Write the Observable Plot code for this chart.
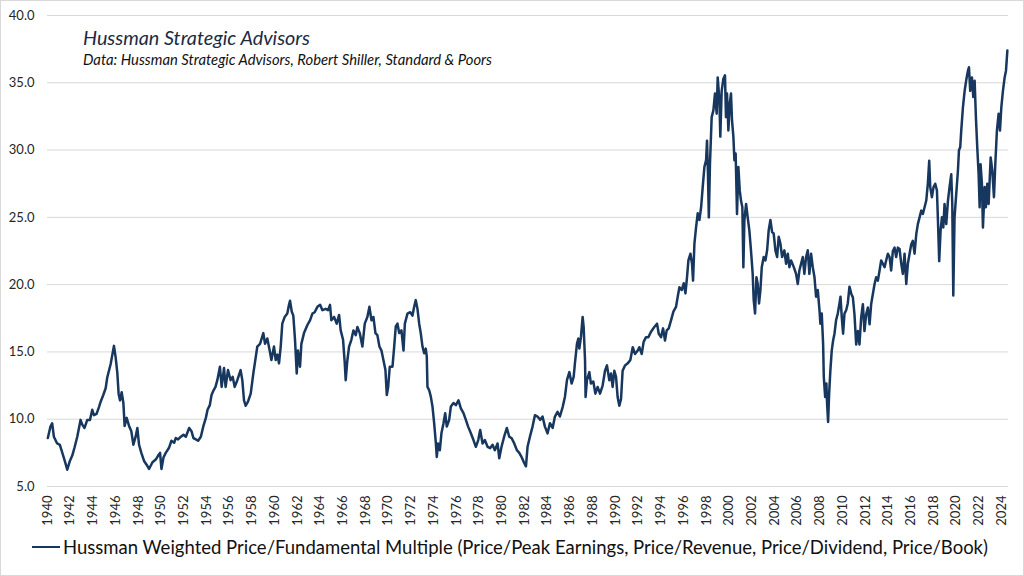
<!DOCTYPE html>
<html>
<head>
<meta charset="utf-8">
<script src="https://cdn.jsdelivr.net/npm/d3@7"></script>
<script src="https://cdn.jsdelivr.net/npm/@observablehq/plot@0.6"></script>
<style>
  html, body { margin: 0; padding: 0; background: #fff; }
  #frame { position: relative; width: 1024px; height: 576px; overflow: hidden; font-family: Lato, "Open Sans", sans-serif; background: #fff; }
  #chart { position: absolute; left: 0; top: 0; }
  #border { position: absolute; left: 0; top: 0; width: 1024px; height: 576px; box-sizing: border-box; border: 1px solid #d9d9d9; pointer-events: none; }
  .title { position: absolute; left: 83px; top: 25.5px; font-style: italic; font-size: 19.8px; line-height: 1.2; color: #1c2b43; white-space: nowrap; }
  .subtitle { position: absolute; left: 83px; top: 50.5px; font-style: italic; font-size: 14.8px; line-height: 1.2; color: #111; white-space: nowrap; }
  .legend { position: absolute; left: 32px; top: 536px; height: 22px; display: flex; align-items: center; white-space: nowrap; }
  .legend .swatch { width: 28px; height: 2.5px; background: #17375e; margin-right: 3px; }
  .legend .label { font-size: 18.5px; line-height: 1.2; color: #111; }
</style>
</head>
<body>
<div id="frame">
  <div id="chart"></div>
  <div class="title">Hussman Strategic Advisors</div>
  <div class="subtitle">Data: Hussman Strategic Advisors, Robert Shiller, Standard &amp; Poors</div>
  <div class="legend"><div class="swatch"></div><div class="label">Hussman Weighted Price/Fundamental Multiple (Price/Peak Earnings, Price/Revenue, Price/Dividend, Price/Book)</div></div>
  <div id="border"></div>
</div>
<script>
// Fractional year of each reading
const years = [
1940.03,1940.26,1940.41,1940.56,1940.85,1941.09,1941.21,1941.38,1941.59,1941.74,1941.97,1942.18,1942.38,1942.62,1942.91,
1943.06,1943.26,1943.5,1943.74,1943.94,1944.09,1944.32,1944.53,1944.68,1944.91,1945.12,1945.26,1945.41,1945.56,1945.71,
1945.85,1946.0,1946.15,1946.26,1946.38,1946.53,1946.68,1946.79,1946.97,1947.18,1947.38,1947.56,1947.76,1947.91,1948.06,
1948.26,1948.5,1948.74,1948.94,1949.24,1949.53,1949.74,1949.91,1950.03,1950.21,1950.41,1950.71,1950.91,1951.15,1951.29,
1951.5,1951.74,1951.97,1952.18,1952.47,1952.68,1952.85,1953.06,1953.26,1953.5,1953.71,1953.94,1954.09,1954.29,1954.44,
1954.62,1954.79,1954.95,1955.18,1955.33,1955.54,1955.68,1955.89,1956.12,1956.3,1956.48,1956.71,1957.0,1957.15,1957.3,
1957.45,1957.65,1957.89,1958.12,1958.33,1958.47,1958.71,1959.0,1959.15,1959.35,1959.56,1959.71,1959.94,1960.09,1960.24,
1960.38,1960.53,1960.67,1960.88,1961.11,1961.26,1961.35,1961.5,1961.64,1961.79,1961.94,1962.05,1962.23,1962.35,1962.58,
1962.88,1963.11,1963.32,1963.52,1963.76,1964.0,1964.2,1964.49,1964.7,1964.87,1964.99,1965.23,1965.46,1965.67,1965.81,
1966.02,1966.17,1966.25,1966.4,1966.55,1966.75,1966.93,1967.14,1967.28,1967.49,1967.72,1967.93,1968.16,1968.34,1968.52,
1968.69,1968.87,1969.04,1969.22,1969.4,1969.57,1969.75,1969.87,1969.99,1970.13,1970.37,1970.52,1970.66,1970.81,1970.96,
1971.16,1971.34,1971.46,1971.69,1971.93,1972.13,1972.28,1972.42,1972.57,1972.72,1972.86,1973.01,1973.16,1973.3,1973.39,
1973.45,1973.6,1973.74,1973.89,1974.04,1974.19,1974.27,1974.39,1974.54,1974.68,1974.86,1975.01,1975.15,1975.36,1975.51,
1975.74,1975.95,1976.18,1976.39,1976.62,1976.83,1977.03,1977.27,1977.5,1977.71,1977.92,1978.09,1978.3,1978.5,1978.74,
1978.97,1979.18,1979.38,1979.62,1979.77,1979.97,1980.2,1980.44,1980.65,1980.85,1981.09,1981.32,1981.53,1981.73,1981.91,
1982.12,1982.26,1982.47,1982.7,1982.91,1983.14,1983.38,1983.58,1983.79,1984.02,1984.23,1984.47,1984.67,1984.9,1985.11,
1985.35,1985.55,1985.73,1985.94,1986.14,1986.32,1986.43,1986.61,1986.73,1986.82,1986.96,1987.11,1987.2,1987.32,1987.37,
1987.49,1987.7,1987.84,1988.05,1988.23,1988.43,1988.64,1988.87,1989.08,1989.25,1989.46,1989.61,1989.75,1989.9,1990.05,
1990.19,1990.34,1990.49,1990.63,1990.84,1991.08,1991.31,1991.52,1991.72,1991.96,1992.1,1992.31,1992.48,1992.69,1992.9,
1993.13,1993.42,1993.66,1993.81,1994.01,1994.19,1994.36,1994.51,1994.69,1994.89,1995.1,1995.33,1995.48,1995.63,1995.83,
1996.01,1996.16,1996.3,1996.42,1996.6,1996.74,1996.83,1996.95,1997.1,1997.24,1997.39,1997.54,1997.68,1997.83,1997.98,
1998.06,1998.14,1998.22,1998.32,1998.47,1998.62,1998.76,1998.91,1999.0,1999.15,1999.23,1999.35,1999.5,1999.64,1999.73,
1999.82,1999.94,2000.06,2000.17,2000.26,2000.38,2000.47,2000.58,2000.7,2000.82,2000.94,2001.05,2001.17,2001.26,2001.35,
2001.5,2001.64,2001.79,2001.93,2002.08,2002.17,2002.29,2002.41,2002.52,2002.64,2002.76,2002.88,2003.05,2003.2,2003.35,
2003.49,2003.64,2003.79,2003.93,2004.08,2004.23,2004.37,2004.52,2004.67,2004.87,2005.02,2005.17,2005.31,2005.46,2005.7,
2005.9,2006.05,2006.19,2006.34,2006.49,2006.63,2006.78,2006.93,2007.07,2007.22,2007.37,2007.52,2007.66,2007.81,2007.96,
2008.04,2008.16,2008.28,2008.34,2008.46,2008.57,2008.63,2008.72,2008.81,2008.92,2009.04,2009.16,2009.28,2009.42,2009.57,
2009.72,2009.81,2009.92,2010.04,2010.16,2010.31,2010.45,2010.6,2010.75,2010.9,2011.04,2011.19,2011.34,2011.48,2011.63,
2011.78,2011.92,2012.07,2012.22,2012.37,2012.51,2012.66,2012.81,2012.95,2013.1,2013.25,2013.39,2013.54,2013.69,2013.83,
2013.98,2014.13,2014.27,2014.42,2014.57,2014.71,2014.86,2015.01,2015.16,2015.3,2015.45,2015.6,2015.74,2015.89,2016.04,
2016.18,2016.33,2016.48,2016.62,2016.77,2016.92,2017.06,2017.21,2017.36,2017.5,2017.62,2017.71,2017.86,2018.0,2018.15,
2018.3,2018.39,2018.5,2018.62,2018.74,2018.86,2018.97,2019.12,2019.27,2019.41,2019.56,2019.65,2019.74,2019.85,2020.0,
2020.15,2020.24,2020.35,2020.44,2020.59,2020.74,2020.88,2021.03,2021.12,2021.23,2021.38,2021.5,2021.62,2021.73,2021.85,
2021.97,2022.06,2022.14,2022.26,2022.35,2022.5,2022.61,2022.73,2022.85,2023.03,2023.17,2023.32,2023.44,2023.58,2023.73,
2023.85,2023.97,2024.11,2024.26,2024.38,2024.5
];
// Hussman Weighted Price/Fundamental Multiple at each reading
const multiple = [
8.6,9.46,9.7,8.7,8.2,8.1,7.75,7.3,6.7,6.25,6.9,7.3,7.9,8.7,9.95,
9.6,9.35,9.95,9.95,10.7,10.3,10.4,10.9,11.3,11.8,12.3,13.1,13.6,14.1,14.8,
15.45,14.6,13.4,11.9,11.4,12.0,11.2,9.5,10.1,9.5,9.1,8.1,8.7,9.35,8.1,
7.5,6.9,6.6,6.3,6.8,7.0,7.3,7.5,6.3,7.15,7.5,7.9,8.4,8.25,8.6,
8.5,8.7,8.85,8.7,9.35,9.1,8.6,8.5,8.4,8.7,9.45,10.1,10.7,11.05,11.8,
12.15,12.4,12.9,13.9,12.4,13.8,12.4,13.65,12.9,13.15,12.4,12.9,13.65,12.9,11.4,
11.0,11.3,11.9,13.4,14.6,15.4,15.6,16.4,15.6,16.0,15.1,14.4,15.4,14.4,14.8,
14.15,15.4,17.1,17.6,17.85,18.5,18.8,18.0,17.7,15.9,13.4,15.1,13.9,15.6,16.4,
17.0,17.35,17.85,17.95,18.35,18.5,18.1,18.2,18.1,18.5,17.35,17.6,17.1,17.75,16.6,
15.9,14.15,12.9,14.4,15.4,15.9,16.6,16.25,16.85,16.4,15.4,17.1,17.6,18.35,17.35,
17.6,16.4,16.25,15.4,15.1,14.4,13.65,11.8,12.4,13.9,13.9,15.4,16.9,17.1,16.4,
16.6,15.1,17.1,17.85,17.95,17.7,18.35,18.85,18.2,17.1,16.4,15.4,14.9,15.25,14.65,
12.4,12.15,11.7,10.95,9.7,8.2,7.2,8.2,7.7,8.95,9.7,10.45,9.45,9.95,10.95,
11.2,11.05,11.4,10.8,10.45,9.95,9.45,8.95,8.45,7.95,8.45,9.2,8.2,8.45,7.95,
7.85,8.1,7.7,8.2,7.1,7.95,8.7,9.35,8.7,8.6,8.2,7.7,7.5,7.2,6.85,
6.5,7.95,8.7,9.45,10.3,10.2,9.95,10.2,9.45,8.95,9.7,9.35,10.2,10.55,10.2,
10.9,11.65,12.9,13.5,12.65,13.15,14.15,15.6,16.0,15.25,16.1,17.6,16.85,14.4,11.65,
12.9,13.5,12.65,12.8,11.9,12.4,11.9,12.5,13.6,14.0,12.9,13.4,12.4,13.6,13.15,
11.65,11.0,11.5,13.6,14.0,14.15,14.4,15.35,14.85,15.1,15.35,14.85,15.75,16.1,16.1,
16.5,16.85,17.1,16.35,16.1,16.75,15.85,16.6,16.75,17.35,18.0,18.35,19.1,19.8,19.6,
20.1,19.35,20.55,21.8,22.3,21.55,20.3,23.05,24.3,25.3,24.8,25.75,27.25,28.75,29.25,
30.7,28.3,25.0,29.0,32.45,32.95,34.2,32.7,35.4,33.7,31.0,34.4,35.3,35.55,32.45,
34.2,31.45,33.45,34.2,32.2,31.0,29.25,29.75,25.25,28.75,27.0,26.25,25.75,21.3,24.8,
26.0,25.0,24.0,22.55,20.8,18.85,17.85,20.55,20.05,18.6,19.6,21.3,22.05,21.8,22.55,
24.05,24.8,23.9,23.8,22.55,22.05,23.55,23.05,22.05,22.55,21.55,22.3,21.3,21.8,21.3,
20.8,20.05,21.05,21.55,22.05,20.8,22.05,22.55,20.8,22.3,21.3,20.55,19.1,19.6,18.1,
17.1,17.85,15.6,13.15,11.65,12.65,11.15,9.8,11.9,13.65,15.1,15.85,16.35,17.35,17.85,
18.6,19.1,17.6,16.35,17.85,18.1,18.6,19.85,19.35,19.05,17.8,15.55,16.55,15.55,17.55,
18.55,16.55,17.8,18.3,17.05,18.55,19.3,20.05,20.55,20.3,21.05,21.8,21.55,21.3,21.8,
22.3,22.05,21.05,22.5,22.75,22.05,22.75,22.65,21.55,20.8,22.3,20.05,21.55,22.3,23.0,
23.25,22.3,23.75,24.5,25.0,25.5,25.25,25.75,26.25,27.5,29.2,27.25,26.5,27.25,27.5,
27.0,24.75,21.75,24.0,25.0,24.25,26.0,24.5,26.25,27.25,28.2,26.0,19.2,25.0,26.75,
28.5,30.0,30.2,31.45,33.2,34.4,35.2,35.9,36.15,34.4,35.4,33.95,35.15,32.45,30.2,
28.2,25.75,28.95,27.5,24.25,27.25,25.75,27.5,26.0,29.45,28.5,26.5,29.0,31.45,32.7,
31.45,33.2,34.4,35.4,35.9,37.4
];
const yTicks = [5, 10, 15, 20, 25, 30, 35, 40];
const xTicks = [1940,1942,1944,1946,1948,1950,1952,1954,1956,1958,1960,1962,1964,1966,1968,1970,1972,1974,1976,1978,1980,1982,1984,1986,1988,1990,1992,1994,1996,1998,2000,2002,2004,2006,2008,2010,2012,2014,2016,2018,2020,2022,2024];
const seriesName = "Hussman Weighted Price/Fundamental Multiple (Price/Peak Earnings, Price/Revenue, Price/Dividend, Price/Book)";

const data = years.map((t, i) => ({t, v: multiple[i], s: seriesName}));

const chart = Plot.plot({
  width: 1024,
  height: 530,
  marginLeft: 47,
  marginRight: 16,
  marginTop: 15,
  marginBottom: 44,
  style: {fontFamily: "Lato, 'Open Sans', sans-serif", fontSize: "13px", color: "#262626", background: "transparent"},
  x: {domain: [1940, 2024.6], ticks: xTicks, tickFormat: d => String(d), tickRotate: -90, tickSize: 0, tickPadding: 9, label: null},
  y: {domain: [5, 40], ticks: yTicks, tickFormat: d => d.toFixed(1), tickSize: 0, tickPadding: 13, label: null},
  marks: [
    Plot.gridY(yTicks, {stroke: "#d9d9d9", strokeOpacity: 1, strokeWidth: 1}),
    Plot.line(data, {x: "t", y: "v", stroke: "#17375e", strokeWidth: 2.5, strokeLinejoin: "round", strokeLinecap: "round"})
  ]
});
document.getElementById("chart").appendChild(chart);
</script>
</body>
</html>
